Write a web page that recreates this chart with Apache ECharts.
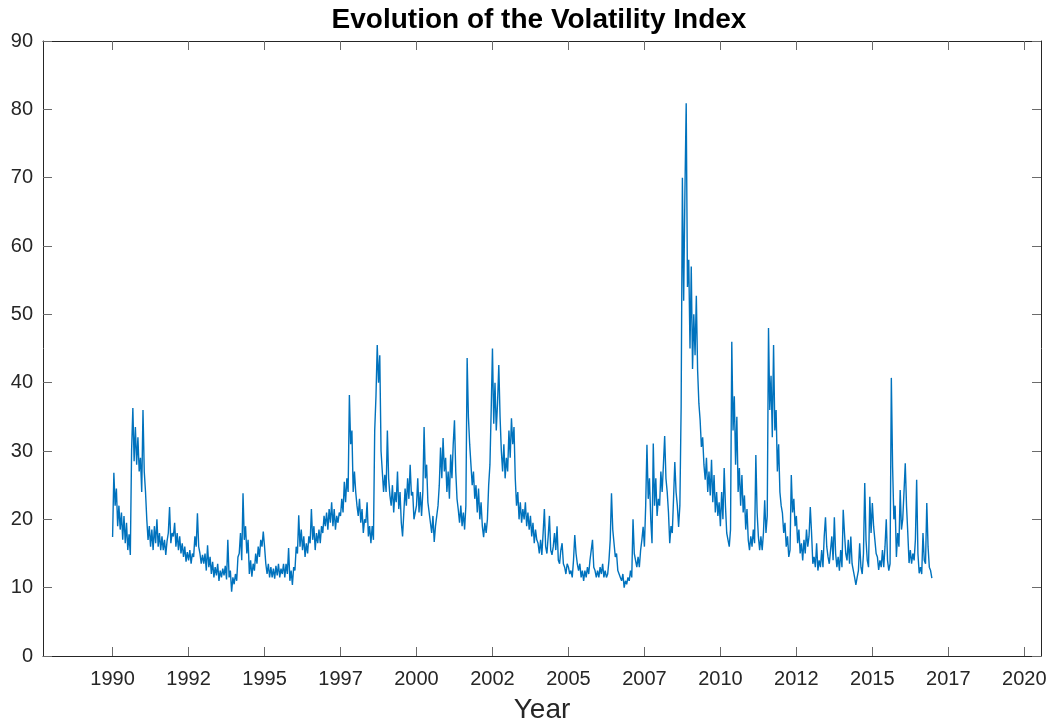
<!DOCTYPE html>
<html>
<head>
<meta charset="utf-8">
<script src="https://cdn.jsdelivr.net/npm/echarts@6/dist/echarts.min.js"></script>
<style>
html,body{margin:0;padding:0;background:#fff;}
#chart{width:1053px;height:727px;}
</style>
</head>
<body>
<div id="chart"></div>
<script>
// Semi-monthly readings (24 per year) of the volatility index
const v1990 = [17.4, 26.8, 22, 24.5, 19, 22, 18.5, 21, 17, 20.5, 16.5, 19.5, 15.5, 17.8, 14.8, 30, 36.3, 28.5, 33.5, 28, 32, 27, 29, 24];
const v1991 = [36, 27, 24, 20, 17, 19, 16, 18.5, 15.5, 19, 16.5, 20, 16, 18, 15.5, 17.5, 15.5, 17, 14.8, 16.8, 18, 21.8, 16.5, 18];
const v1992 = [17.5, 19.5, 16, 18, 15.5, 17.5, 15, 16.5, 14.5, 16, 13.8, 15.2, 14, 15.5, 13.5, 15, 14.5, 17.5, 16, 20.9, 16, 15, 13.5, 14.8];
const v1993 = [13.5, 15, 12.5, 16.2, 13, 14.5, 12, 13.8, 11.5, 13, 11.8, 13.5, 11, 12.5, 11.5, 12.8, 11.8, 13.2, 11.2, 17, 11.5, 12.5, 9.4, 11.5];
const v1994 = [10.5, 12, 11, 14.5, 15, 18, 14, 23.8, 17, 19, 15, 17, 12, 14, 11.6, 13.5, 12.5, 15, 13.5, 16, 14.5, 17, 16, 18.2];
const v1995 = [16, 13.5, 12, 13.5, 11.5, 13, 11.5, 12.8, 11.3, 13.2, 11.8, 13.5, 11.5, 12.8, 12, 13.5, 11.5, 13.5, 12, 15.8, 11, 12.5, 10.4, 13];
const v1996 = [12.5, 16, 15, 20.6, 16, 18.5, 15.5, 17.5, 14.5, 16.5, 15, 17.5, 16.5, 21.5, 17, 19, 15.5, 18, 16.5, 18.5, 16.5, 19, 18, 20.5];
const v1997 = [19, 21, 18.5, 21.5, 19.5, 22.5, 19, 21.5, 18.5, 20.5, 19.5, 21, 20.5, 23, 21, 25.5, 22.5, 26, 24, 38.2, 31, 33, 24, 27];
const v1998 = [24, 22, 20.5, 23, 19.5, 21.5, 18, 20, 19.5, 22.5, 17.5, 19, 16.5, 19, 17, 33, 38, 45.5, 40, 44, 30, 27, 24, 26.5];
const v1999 = [24, 33, 26, 23.5, 22, 25, 21, 24, 22.5, 27, 21.5, 24, 19.5, 17.5, 21, 24.5, 22, 26, 23, 28, 23.5, 24, 20, 21];
const v2000 = [22, 26, 21, 24, 20.5, 24, 33.5, 26, 28, 22.5, 21, 19.5, 18, 20.5, 16.7, 19, 20.5, 22, 25, 30.5, 26, 31.9, 27, 29];
const v2001 = [24, 27, 23, 29.5, 26, 31, 34.5, 27, 23, 21.4, 19.5, 22, 19, 21, 18.5, 22, 43.6, 35, 31, 28, 25, 27, 23, 25];
const v2002 = [21, 24.5, 20, 22.5, 19, 17.4, 19.5, 18, 20, 25, 28, 36, 45, 34, 40, 33, 37, 42.6, 35, 30, 27, 31, 26, 29];
const v2003 = [27, 33, 29, 34.8, 31, 33.5, 26, 22, 24, 20, 22.5, 19.5, 21.5, 20, 22.5, 19, 21, 18.5, 20.5, 17.5, 19.5, 16.5, 18.5, 17];
const v2004 = [16.5, 15, 17, 14.8, 18, 21.5, 16, 15, 17.5, 20.5, 15.5, 14.8, 16, 18, 15.5, 19, 14, 13.5, 15.5, 16.5, 13.5, 13, 12, 13.5];
const v2005 = [13, 12, 12.5, 11.5, 14, 17.7, 15, 13.5, 12.5, 13.5, 11.5, 12.5, 11, 12.5, 11.5, 13, 12, 14, 15.5, 17, 13, 12.5, 11.5, 12.5];
const v2006 = [11.5, 13, 12, 13.5, 11.5, 12.5, 11.5, 12, 14, 17, 23.8, 18.5, 16.5, 14.5, 15, 12.5, 12, 11.5, 11, 12, 10, 11, 10.5, 11.5];
const v2007 = [11, 12.5, 11.5, 20, 15, 14, 13, 14.5, 13, 15.5, 17, 18.9, 16, 22, 30.9, 23, 26, 20, 16.5, 31.1, 22, 26, 20.5, 23];
const v2008 = [22, 27, 24, 28, 32.2, 26, 24, 21, 16.5, 19, 18, 23, 28.4, 24, 22, 18.9, 22, 36.4, 70, 52, 68, 80.9, 54, 58];
const v2009 = [45, 57, 42, 50, 44, 52.7, 41.9, 37, 34.5, 30.6, 32, 28, 25.8, 29, 24, 27, 23.5, 28.7, 22.5, 26.5, 21, 24, 20.5, 22.5];
const v2010 = [19, 24, 20, 27.5, 22, 18, 17, 16, 18.5, 46, 33, 38, 28, 35, 24, 27.5, 22, 26.5, 21, 23.5, 18.5, 21.5, 17, 15.5];
const v2011 = [17.5, 16, 18.5, 16.5, 29.4, 21, 17.5, 15.5, 17.5, 15.5, 18, 22.8, 18, 20.5, 48, 36, 41, 32, 45.5, 33, 36, 27, 31, 24];
const v2012 = [22, 20.9, 18, 19.5, 16, 17.5, 14.5, 15.5, 26.5, 21, 23, 19, 20.5, 16.5, 18.5, 15, 16.5, 14, 17, 15, 18.5, 16, 17.5, 21.8];
const v2013 = [18, 13.5, 14.5, 13, 16.5, 12.5, 14, 13, 15.5, 13, 17.5, 20.3, 16, 14.5, 13.5, 15.5, 17.5, 14, 20.3, 15, 13, 14.5, 12.5, 15.5];
const v2014 = [13, 21.4, 18, 15, 14, 17, 13.5, 17.5, 13.5, 12.5, 11.5, 10.4, 11.5, 12.5, 16.5, 13, 12, 15, 25.3, 17, 14, 13, 23.3, 18];
const v2015 = [22.4, 19, 17, 15, 14.5, 12.6, 14, 13, 15.5, 13, 16, 20, 14, 12.5, 13.5, 40.7, 27.7, 20, 22, 14.5, 18, 16, 24.3, 18.5];
const v2016 = [20, 24, 28.2, 22, 18, 13.6, 15.5, 13.5, 15, 14, 17, 25.8, 15, 12.1, 13, 12, 18, 14, 13.5, 22.4, 16, 13, 12.5, 11.4];

const years = [1990,1991,1992,1993,1994,1995,1996,1997,1998,1999,2000,2001,2002,2003,2004,2005,2006,2007,2008,2009,2010,2011,2012,2013,2014,2015,2016];
const yearValues = [v1990,v1991,v1992,v1993,v1994,v1995,v1996,v1997,v1998,v1999,v2000,v2001,v2002,v2003,v2004,v2005,v2006,v2007,v2008,v2009,v2010,v2011,v2012,v2013,v2014,v2015,v2016];
const xTickValues = [1990, 1992.5, 1995, 1997.5, 2000, 2002.5, 2005, 2007.5, 2010, 2012.5, 2015, 2017.5, 2020];

const points = [];
years.forEach((y, k) => {
  const arr = yearValues[k];
  arr.forEach((v, i) => points.push([y + i / arr.length, v]));
});

const chart = echarts.init(document.getElementById('chart'), null, {renderer: 'canvas'});
const axisColor = '#262626';
const font = '"Liberation Sans", Arial, Helvetica, sans-serif';
const xMin = 1987.71, xMax = 2020.55;

const xCommon = {
  type: 'value', min: xMin, max: xMax,
  splitLine: {show: false},
  axisLine: {show: true, onZero: false, lineStyle: {color: axisColor, width: 1}},
  axisTick: {show: true, inside: true, length: 9, customValues: xTickValues, lineStyle: {color: '#6b6b6b', width: 1}}
};
const yCommon = {
  type: 'value', min: 0, max: 90, interval: 10,
  splitLine: {show: false},
  axisLine: {show: true, onZero: false, lineStyle: {color: axisColor, width: 1}},
  axisTick: {show: true, inside: true, length: 9, lineStyle: {color: '#6b6b6b', width: 1}}
};

chart.setOption({
  animation: false,
  backgroundColor: '#ffffff',
  title: {
    text: 'Evolution of the Volatility Index',
    left: 534, top: 1, textAlign: 'center',
    textStyle: {fontFamily: font, fontWeight: 'bold', fontSize: 28, color: '#000'}
  },
  grid: {left: 43, right: 12, top: 41, bottom: 71, containLabel: false, outerBoundsMode: 'none'},
  xAxis: [
    Object.assign({}, xCommon, {
      position: 'bottom',
      name: 'Year', nameLocation: 'middle', nameGap: 40,
      nameTextStyle: {fontFamily: font, fontSize: 28, color: axisColor},
      axisLabel: {
        show: true, customValues: xTickValues, margin: 13,
        fontFamily: font, fontSize: 20, color: axisColor,
        formatter: v => String(Math.floor(v))
      }
    }),
    Object.assign({}, xCommon, {position: 'top', axisLabel: {show: false}})
  ],
  yAxis: [
    Object.assign({}, yCommon, {
      position: 'left',
      axisLabel: {show: true, margin: 10, fontFamily: font, fontSize: 20, color: axisColor}
    }),
    Object.assign({}, yCommon, {position: 'right', axisLabel: {show: false}})
  ],
  series: [{
    type: 'line',
    xAxisIndex: 0, yAxisIndex: 0,
    data: points,
    showSymbol: false,
    symbol: 'none',
    sampling: null,
    lineStyle: {color: '#0072BD', width: 1.4},
    emphasis: {disabled: true}
  }]
});
</script>
</body>
</html>
